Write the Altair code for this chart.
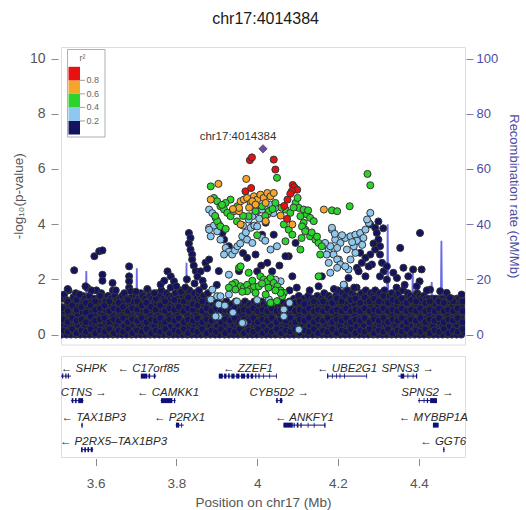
import altair as alt
import pandas as pd

# ---------------------------------------------------------------- region
LEAD_NAME = "chr17:4014384"
LEAD_POS = 4.014384          # Mb
LEAD_LOGP = 6.73
X_MIN, X_MAX = LEAD_POS - 0.5, LEAD_POS + 0.5
Y_MIN, Y_MAX = -0.36, 10.42
REC_MIN, REC_MAX = -3.6, 104.2

R2_LEVELS = ["NA", "0-0.2", "0.2-0.4", "0.4-0.6", "0.6-0.8", "0.8-1"]
R2_COLORS = ["#9a9a8a", "#13135f", "#8fc8ee", "#2ad42a", "#f4a62a", "#e81010"]

# ---------------------------------------------------------------- SNPs
# weakly linked SNPs forming the dense floor: (position kb, [-log10 p, ...])
NAVY_BAND = [
    (3516, [0.0, 0.35, 0.7, 1.0, 1.3]), (3522, [0.1, 0.5, 0.85, 1.45]),
    (3528, [0.0, 0.25, 0.6, 1.0, 1.25]), (3533, [0.15, 0.45, 0.75, 1.1, 1.6]),
    (3539, [0.0, 0.3, 0.55, 0.9, 1.2]), (3545, [0.2, 0.6, 1.0, 1.35]),
    (3551, [0.0, 0.4, 0.8, 1.1, 1.5]), (3556, [0.1, 0.35, 0.7, 1.0, 1.3]),
    (3562, [0.0, 0.5, 0.9, 1.2]), (3568, [0.2, 0.45, 0.8, 1.1, 1.4]),
    (3574, [0.0, 0.3, 0.65, 1.0, 1.3]), (3579, [0.1, 0.5, 0.9, 1.2, 1.7]),
    (3585, [0.0, 0.25, 0.6, 1.1, 1.4]), (3591, [0.15, 0.4, 0.8, 1.2]),
    (3597, [0.0, 0.3, 0.7, 1.0, 1.3]), (3602, [0.2, 0.5, 0.9, 1.1, 1.6]),
    (3608, [0.0, 0.4, 0.6, 1.0, 1.3]), (3614, [0.1, 0.3, 0.8, 1.2, 1.5]),
    (3620, [0.0, 0.5, 0.7, 1.1, 1.35]), (3625, [0.2, 0.45, 0.9, 1.2]),
    (3631, [0.0, 0.3, 0.6, 1.0, 1.4]), (3637, [0.1, 0.5, 0.8, 1.1, 1.3]),
    (3643, [0.0, 0.2, 0.7, 1.2, 1.6]), (3648, [0.15, 0.4, 0.9, 1.1, 1.4]),
    (3654, [0.0, 0.3, 0.6, 1.0, 1.25]), (3660, [0.2, 0.5, 0.8, 1.3]),
    (3666, [0.0, 0.4, 0.7, 1.1, 1.4]), (3671, [0.1, 0.3, 0.9, 1.2, 1.5]),
    (3677, [0.0, 0.5, 0.65, 1.0, 1.3]), (3683, [0.2, 0.4, 0.8, 1.2, 1.7]),
    (3689, [0.0, 0.3, 0.7, 1.1, 1.35]), (3694, [0.1, 0.6, 0.9, 1.2]),
    (3700, [0.0, 0.2, 0.5, 1.0, 1.4]), (3706, [0.1, 0.4, 0.8, 1.1, 1.3]),
    (3712, [0.0, 0.3, 0.7, 1.2, 1.5]), (3717, [0.2, 0.5, 0.9, 1.1, 1.4]),
    (3723, [0.0, 0.4, 0.6, 1.0, 1.3]), (3729, [0.1, 0.3, 0.8, 1.2, 1.6]),
    (3735, [0.0, 0.5, 0.7, 1.1, 1.4]), (3740, [0.2, 0.4, 0.9, 1.3]),
    (3746, [0.0, 0.3, 0.6, 1.0, 1.2]), (3752, [0.1, 0.5, 0.8, 1.1, 1.5]),
    (3758, [0.0, 0.2, 0.7, 1.2, 1.4]), (3763, [0.1, 0.4, 0.9, 1.1, 1.6]),
    (3769, [0.0, 0.3, 0.6, 1.0, 1.3]), (3775, [0.2, 0.5, 0.8, 1.2, 1.5]),
    (3781, [0.0, 0.4, 0.7, 1.1, 1.4]), (3786, [0.1, 0.3, 0.9, 1.3, 1.7]),
    (3792, [0.0, 0.5, 0.6, 1.0, 1.4]), (3798, [0.2, 0.4, 0.8, 1.2, 1.5]),
    (3804, [0.0, 0.3, 0.7, 1.1, 1.3]), (3809, [0.1, 0.6, 0.9, 1.2, 1.6]),
    (3815, [0.0, 0.2, 0.5, 1.0, 1.4]), (3821, [0.1, 0.4, 0.8, 1.1, 1.5]),
    (3827, [0.0, 0.3, 0.7, 1.2, 1.4]), (3832, [0.2, 0.5, 0.9, 1.3, 1.6]),
    (3838, [0.0, 0.4, 0.6, 1.0, 1.4]), (3844, [0.1, 0.3, 0.8, 1.2, 1.5]),
    (3850, [0.0, 0.5, 0.7, 1.1, 1.3]), (3855, [0.2, 0.4, 0.9, 1.2, 1.5]),
    (3861, [0.0, 0.3, 0.6, 1.0, 1.3]), (3867, [0.1, 0.5, 0.8, 1.1, 1.4]),
    (3873, [0.0, 0.2, 0.7, 1.2]), (3878, [0.1, 0.4, 0.9, 1.1]),
    (3884, [0.0, 0.3, 0.6, 1.0]), (3890, [0.2, 0.5, 0.8, 1.1]),
    (3896, [0.0, 0.4, 0.7, 1.0]), (3901, [0.1, 0.3, 0.9, 1.2]),
    (3907, [0.0, 0.5, 0.6, 1.0]), (3913, [0.2, 0.4, 0.8, 1.1]),
    (3919, [0.0, 0.3, 0.7, 1.0]), (3924, [0.1, 0.6, 0.9, 1.2]),
    (3930, [0.0, 0.2, 0.5, 1.0]), (3936, [0.1, 0.4, 0.8, 1.1]),
    (3942, [0.0, 0.3, 0.7, 0.9]), (3947, [0.2, 0.5, 0.9, 1.2]),
    (3953, [0.0, 0.4, 0.6, 1.0]), (3959, [0.1, 0.3, 0.8, 1.1]),
    (3965, [0.0, 0.5, 0.7, 1.0]), (3970, [0.2, 0.4, 0.9, 1.2]),
    (3976, [0.0, 0.3, 0.6, 1.0]), (3982, [0.1, 0.5, 0.8, 1.1]),
    (3988, [0.0, 0.2, 0.7, 1.0]), (3993, [0.1, 0.4, 0.9, 1.2]),
    (3999, [0.0, 0.3, 0.6, 1.1]), (4005, [0.2, 0.5, 0.8, 1.0]),
    (4011, [0.0, 0.4, 0.7, 1.2]), (4016, [0.1, 0.3, 0.9, 1.1]),
    (4022, [0.0, 0.5, 0.6, 1.0]), (4028, [0.2, 0.4, 0.8, 1.2]),
    (4034, [0.0, 0.3, 0.7, 1.0]), (4039, [0.1, 0.6, 0.9, 1.1]),
    (4045, [0.0, 0.2, 0.5, 1.0]), (4051, [0.1, 0.4, 0.8, 1.2]),
    (4057, [0.0, 0.3, 0.7, 1.1]), (4062, [0.2, 0.5, 0.9, 1.2]),
    (4068, [0.0, 0.4, 0.6, 1.0]), (4074, [0.1, 0.3, 0.8, 1.1]),
    (4080, [0.0, 0.5, 0.7, 1.2]), (4085, [0.2, 0.4, 0.9, 1.1]),
    (4091, [0.0, 0.3, 0.6, 1.0, 1.3]), (4097, [0.1, 0.5, 0.8, 1.2]),
    (4103, [0.0, 0.2, 0.7, 1.1, 1.4]), (4108, [0.1, 0.4, 0.9, 1.2]),
    (4114, [0.0, 0.3, 0.6, 1.0, 1.3]), (4120, [0.2, 0.5, 0.8, 1.1]),
    (4126, [0.0, 0.4, 0.7, 1.2, 1.4]), (4131, [0.1, 0.3, 0.9, 1.1]),
    (4137, [0.0, 0.5, 0.6, 1.0, 1.3]), (4143, [0.2, 0.4, 0.8, 1.2]),
    (4149, [0.0, 0.3, 0.7, 1.1, 1.4]), (4154, [0.1, 0.6, 0.9, 1.2]),
    (4160, [0.0, 0.2, 0.5, 1.0, 1.3]), (4166, [0.1, 0.4, 0.8, 1.1, 1.5]),
    (4172, [0.0, 0.3, 0.7, 1.2]), (4177, [0.2, 0.5, 0.9, 1.1, 1.4]),
    (4183, [0.0, 0.4, 0.6, 1.0, 1.3]), (4189, [0.1, 0.3, 0.8, 1.2]),
    (4195, [0.0, 0.5, 0.7, 1.1, 1.4]), (4200, [0.2, 0.4, 0.9, 1.2, 1.6]),
    (4206, [0.0, 0.3, 0.6, 1.0, 1.3]), (4212, [0.1, 0.5, 0.8, 1.1, 1.5]),
    (4218, [0.0, 0.2, 0.7, 1.2, 1.4]), (4223, [0.1, 0.4, 0.9, 1.1, 1.6]),
    (4229, [0.0, 0.3, 0.6, 1.0, 1.3]), (4235, [0.2, 0.5, 0.8, 1.2, 1.5]),
    (4241, [0.0, 0.4, 0.7, 1.1, 1.4]), (4246, [0.1, 0.3, 0.9, 1.3, 1.7]),
    (4252, [0.0, 0.5, 0.6, 1.0, 1.4]), (4258, [0.2, 0.4, 0.8, 1.2, 1.5]),
    (4264, [0.0, 0.3, 0.7, 1.1, 1.3]), (4269, [0.1, 0.6, 0.9, 1.2, 1.6]),
    (4275, [0.0, 0.2, 0.5, 1.0, 1.4]), (4281, [0.1, 0.4, 0.8, 1.1, 1.5]),
    (4287, [0.0, 0.3, 0.7, 1.2, 1.4]), (4292, [0.2, 0.5, 0.9, 1.3, 1.6]),
    (4298, [0.0, 0.4, 0.6, 1.0, 1.4]), (4304, [0.1, 0.3, 0.8, 1.2, 1.5]),
    (4310, [0.0, 0.5, 0.7, 1.1, 1.3]), (4315, [0.2, 0.4, 0.9, 1.2, 1.6]),
    (4321, [0.0, 0.3, 0.6, 1.0, 1.3]), (4327, [0.1, 0.5, 0.8, 1.1, 1.4]),
    (4333, [0.0, 0.2, 0.7, 1.2, 1.5]), (4338, [0.1, 0.4, 0.9, 1.1, 1.3]),
    (4344, [0.0, 0.3, 0.6, 1.0, 1.4]), (4350, [0.2, 0.5, 0.8, 1.2, 1.5]),
    (4356, [0.0, 0.4, 0.7, 1.1, 1.3]), (4361, [0.1, 0.3, 0.9, 1.2, 1.6]),
    (4367, [0.0, 0.5, 0.6, 1.0, 1.3]), (4373, [0.2, 0.4, 0.8, 1.2, 1.5]),
    (4379, [0.0, 0.3, 0.7, 1.1, 1.4]), (4384, [0.1, 0.6, 0.9, 1.2, 1.3]),
    (4390, [0.0, 0.2, 0.5, 1.0, 1.4]), (4396, [0.1, 0.4, 0.8, 1.1, 1.5]),
    (4402, [0.0, 0.3, 0.7, 1.2, 1.4]), (4407, [0.2, 0.5, 0.9, 1.3]),
    (4413, [0.0, 0.4, 0.6, 1.0, 1.4]), (4419, [0.1, 0.3, 0.8, 1.2, 1.3]),
    (4425, [0.0, 0.5, 0.7, 1.1, 1.3]), (4430, [0.2, 0.4, 0.9, 1.2]),
    (4436, [0.0, 0.3, 0.6, 1.0, 1.3]), (4442, [0.1, 0.5, 0.8, 1.1, 1.3]),
    (4448, [0.0, 0.2, 0.7, 1.2]), (4453, [0.1, 0.4, 0.9, 1.1, 1.3]),
    (4459, [0.0, 0.3, 0.6, 1.0, 1.3]), (4465, [0.2, 0.5, 0.8, 1.2]),
    (4471, [0.0, 0.4, 0.7, 1.1, 1.3]), (4476, [0.1, 0.3, 0.9, 1.2, 1.3]),
    (4482, [0.0, 0.5, 0.6, 1.0, 1.3]), (4488, [0.2, 0.4, 0.8, 1.2]),
    (4494, [0.0, 0.3, 0.7, 1.1, 1.3]), (4499, [0.1, 0.5, 0.9, 1.2, 1.3]),
    (4505, [0.0, 0.2, 0.6, 1.0, 1.3]), (4511, [0.1, 0.4, 0.8, 1.2]),
]
# further floor SNPs lying between the columns above
NAVY_BAND_2 = [
    (3519, [0.15, 0.55, 0.95]), (3531, [0.1, 0.45, 0.85, 1.2]), (3542, [0.2, 0.6, 1.05]),
    (3553, [0.05, 0.5, 0.9, 1.25]), (3565, [0.15, 0.55, 1.0]), (3576, [0.1, 0.45, 0.8, 1.15]),
    (3588, [0.2, 0.65, 1.05]), (3599, [0.05, 0.5, 0.9, 1.2]), (3611, [0.15, 0.55, 0.95, 1.4]),
    (3622, [0.1, 0.6, 1.05]), (3634, [0.2, 0.45, 0.85, 1.2]), (3645, [0.05, 0.55, 0.95]),
    (3657, [0.15, 0.5, 0.9, 1.15]), (3668, [0.1, 0.6, 1.0]), (3680, [0.2, 0.45, 0.85, 1.25]),
    (3691, [0.05, 0.55, 0.95]), (3703, [0.15, 0.5, 0.9, 1.2]), (3714, [0.1, 0.6, 1.05]),
    (3726, [0.2, 0.45, 0.85, 1.15]), (3737, [0.05, 0.55, 1.0]), (3749, [0.15, 0.5, 0.9, 1.3]),
    (3760, [0.1, 0.6, 1.05]), (3772, [0.2, 0.45, 0.85, 1.2]), (3783, [0.05, 0.55, 0.95]),
    (3795, [0.15, 0.5, 0.9, 1.25]), (3806, [0.1, 0.6, 1.0]), (3818, [0.2, 0.45, 0.85, 1.2]),
    (3829, [0.05, 0.55, 0.95, 1.35]), (3841, [0.15, 0.5, 0.9, 1.1]), (3852, [0.1, 0.6, 1.05]),
    (3864, [0.2, 0.45, 0.85, 1.2]), (3875, [0.05, 0.55, 0.95]), (3887, [0.15, 0.5, 0.85]),
    (3898, [0.1, 0.6, 0.95]), (3910, [0.2, 0.45, 0.85]), (3921, [0.05, 0.55, 0.9]),
    (3933, [0.15, 0.5, 0.85]), (3944, [0.1, 0.6, 0.95]), (3956, [0.2, 0.45, 0.85]),
    (3967, [0.05, 0.55, 0.9]), (3979, [0.15, 0.5, 0.85]), (3990, [0.1, 0.6, 0.95]),
    (4002, [0.2, 0.45, 0.85]), (4013, [0.05, 0.55, 0.9]), (4025, [0.15, 0.5, 0.85]),
    (4036, [0.1, 0.6, 0.95]), (4048, [0.2, 0.45, 0.85]), (4059, [0.05, 0.55, 0.9]),
    (4071, [0.15, 0.5, 0.85]), (4082, [0.1, 0.6, 0.95]), (4094, [0.2, 0.45, 0.85, 1.15]),
    (4105, [0.05, 0.55, 0.9, 1.2]), (4117, [0.15, 0.5, 0.85, 1.1]), (4128, [0.1, 0.6, 0.95]),
    (4140, [0.2, 0.45, 0.85, 1.2]), (4151, [0.05, 0.55, 0.9]), (4163, [0.15, 0.5, 0.85, 1.2]),
    (4174, [0.1, 0.6, 0.95]), (4186, [0.2, 0.45, 0.85, 1.15]), (4197, [0.05, 0.55, 0.9, 1.3]),
    (4209, [0.15, 0.5, 0.85, 1.2]), (4220, [0.1, 0.6, 0.95]), (4232, [0.2, 0.45, 0.85, 1.25]),
    (4243, [0.05, 0.55, 0.9, 1.3]), (4255, [0.15, 0.5, 0.85, 1.15]), (4266, [0.1, 0.6, 0.95, 1.35]),
    (4278, [0.2, 0.45, 0.85, 1.2]), (4289, [0.05, 0.55, 0.9, 1.3]), (4301, [0.15, 0.5, 0.85, 1.2]),
    (4312, [0.1, 0.6, 0.95, 1.4]), (4324, [0.2, 0.45, 0.85, 1.15]), (4335, [0.05, 0.55, 0.9, 1.25]),
    (4347, [0.15, 0.5, 0.85, 1.2]), (4358, [0.1, 0.6, 0.95, 1.3]), (4370, [0.2, 0.45, 0.85, 1.15]),
    (4381, [0.05, 0.55, 0.9, 1.25]), (4393, [0.15, 0.5, 0.85, 1.2]), (4404, [0.1, 0.6, 0.95]),
    (4416, [0.2, 0.45, 0.85, 1.15]), (4427, [0.05, 0.55, 0.9, 1.2]), (4439, [0.15, 0.5, 0.85]),
    (4450, [0.1, 0.6, 0.95, 1.2]), (4462, [0.2, 0.45, 0.85, 1.15]), (4473, [0.05, 0.55, 0.9]),
    (4485, [0.15, 0.5, 0.85, 1.2]), (4496, [0.1, 0.6, 0.95]), (4508, [0.2, 0.45, 0.85, 1.2]),
]

# weakly linked SNPs standing above the floor: (Mb, -log10 p)
NAVY = [
    (3.547, 2.33), (3.597, 2.84), (3.609, 3.02), (3.617, 3.05), (3.683, 2.47),
    (3.683, 2.11), (3.683, 1.93), (3.617, 2.17), (3.617, 1.95), (3.642, 1.87),
    (3.687, 1.57), (3.778, 2.29), (3.786, 2.11), (3.794, 1.93), (3.761, 1.81),
    (3.531, 1.65), (3.560, 1.45), (3.575, 1.75), (3.590, 1.60), (3.650, 1.60),
    (3.700, 1.55), (3.728, 1.65), (3.745, 1.50), (3.770, 1.95), (3.800, 1.75),
    (3.812, 1.55),
    (3.831, 3.68), (3.835, 3.50), (3.831, 3.30), (3.835, 3.08), (3.839, 2.90),
    (3.839, 2.72), (3.843, 2.50), (3.848, 2.30), (3.860, 2.29), (3.852, 2.10),
    (3.865, 1.95), (3.872, 2.60), (3.881, 2.72), (3.876, 2.40), (3.868, 1.75),
    (3.856, 1.60), (3.878, 1.50), (3.845, 1.85), (3.826, 2.00), (3.822, 1.70),
    (3.975, 2.78), (3.996, 2.90), (3.955, 2.30), (4.000, 2.29), (4.037, 2.29),
    (4.078, 2.84), (4.087, 2.11), (3.988, 3.92), (4.021, 4.05), (3.914, 3.68),
    (3.918, 3.44), (4.095, 3.32), (4.070, 2.84), (4.012, 3.62), (4.041, 3.62),
    (3.930, 3.20), (3.965, 2.95), (4.025, 2.60), (4.055, 2.50), (3.905, 2.30),
    (3.900, 1.80), (4.010, 2.50), (4.098, 1.70), (4.080, 1.60),
    (4.280, 3.99), (4.292, 3.87), (4.296, 3.68), (4.300, 3.44), (4.304, 3.20),
    (4.292, 3.08), (4.280, 2.90), (4.268, 2.78), (4.255, 2.96), (4.259, 2.60),
    (4.247, 2.42), (4.284, 2.54), (4.304, 2.90), (4.309, 2.60), (4.313, 2.29),
    (4.354, 3.14), (4.403, 3.68), (4.362, 2.42), (4.374, 2.11), (4.386, 2.36),
    (4.226, 2.05), (4.268, 2.11), (4.304, 2.11), (4.346, 2.05), (4.337, 2.24),
    (4.407, 2.36), (4.402, 1.93), (4.321, 1.99), (4.428, 1.63), (4.453, 1.57),
    (4.469, 1.51), (4.477, 1.33), (4.506, 1.45), (4.395, 1.75), (4.321, 2.47),
    (4.160, 2.11), (4.152, 1.75), (4.251, 2.29), (4.276, 2.47), (4.190, 1.65),
    (4.215, 1.80), (4.240, 1.70), (4.130, 1.60), (4.345, 1.70), (4.365, 1.80),
    (4.420, 1.60), (4.288, 3.30), (4.300, 4.10), (4.312, 3.85),
]

# SNP without LD information
GREY = [(3.720, 1.39)]

LIGHTBLUE = [
    (3.881, 4.53), (3.889, 4.40), (3.897, 4.23), (3.881, 3.87), (3.885, 3.56),
    (3.901, 3.74), (3.909, 3.44), (3.922, 3.14), (3.930, 3.00), (3.938, 2.90),
    (3.945, 3.05), (3.951, 3.20), (3.918, 2.90), (3.963, 3.56), (3.972, 3.70),
    (3.984, 3.87), (3.993, 3.95), (4.000, 3.92), (3.988, 4.29), (4.000, 4.47),
    (4.012, 4.53), (4.021, 4.65), (4.033, 4.71), (4.045, 4.59), (3.979, 4.17),
    (3.975, 3.44), (3.988, 3.32), (4.049, 3.20), (4.033, 3.08), (4.012, 3.50),
    (3.893, 3.95), (3.905, 4.00), (3.958, 3.30), (4.005, 4.20), (4.025, 4.35),
    (4.040, 4.40), (4.020, 3.40), (3.965, 3.95), (3.881, 3.80),
    (3.901, 1.39), (3.905, 1.09), (3.905, 0.66), (3.967, 0.42), (3.930, 2.17),
    (4.058, 1.93), (4.066, 0.91), (3.889, 1.63), (3.885, 1.27), (3.897, 0.66),
    (3.909, 1.39), (3.930, 1.45), (3.963, 0.42), (4.029, 1.27), (4.066, 0.66),
    (4.103, 0.18), (4.045, 1.99), (3.920, 1.05), (3.950, 1.20), (4.000, 1.25),
    (4.080, 1.15), (3.940, 0.80),
    (4.181, 2.24), (4.202, 2.72), (4.226, 2.36), (4.243, 2.96), (4.177, 2.60),
    (4.185, 3.80), (4.185, 3.87), (4.177, 3.08), (4.189, 2.90), (4.198, 2.72),
    (4.206, 2.54), (4.218, 2.47), (4.231, 2.72), (4.214, 1.81), (4.193, 3.44),
    (4.206, 3.32), (4.218, 3.50), (4.231, 3.56), (4.243, 3.62), (4.255, 3.68),
    (4.268, 3.80), (4.276, 4.05), (4.280, 4.41), (4.272, 4.17), (4.181, 3.20),
    (4.198, 3.14), (4.222, 3.08), (4.239, 3.20), (4.251, 3.38), (4.263, 3.50),
    (4.168, 3.32), (4.172, 2.90), (4.198, 2.42), (4.210, 3.60), (4.247, 3.40),
    (4.260, 3.25), (4.235, 3.35), (4.192, 3.65),
]

GREEN = [
    (3.885, 5.37), (3.893, 4.95), (3.901, 4.83), (3.909, 4.65), (3.918, 4.53),
    (3.926, 4.41), (3.901, 4.11), (3.909, 3.92), (3.922, 3.83), (3.934, 4.29),
    (3.942, 4.47), (3.951, 4.65), (3.934, 4.89), (3.922, 4.77), (3.913, 4.70),
    (3.896, 4.30), (4.012, 4.65), (4.029, 4.47), (4.045, 4.77), (4.070, 4.53),
    (4.082, 4.41), (4.095, 4.77), (4.103, 4.59), (4.107, 4.29), (4.115, 4.05),
    (4.119, 3.80), (4.066, 3.99), (4.078, 3.80), (4.087, 3.62), (4.070, 3.38),
    (4.107, 3.08), (4.049, 5.68), (3.996, 4.47), (3.979, 4.29), (4.115, 4.53),
    (4.123, 4.35), (4.131, 4.23), (4.140, 4.11), (4.111, 3.92), (4.119, 3.74),
    (4.131, 3.56), (4.144, 3.44), (4.152, 3.32), (4.160, 3.20), (4.156, 2.90),
    (4.152, 2.11), (4.273, 5.82), (4.280, 5.41), (4.229, 4.65), (4.185, 4.50),
    (4.198, 4.47), (4.100, 4.95), (4.090, 4.60), (4.126, 4.50), (4.060, 4.60),
    (4.038, 4.55), (4.020, 4.30), (3.965, 4.30), (3.950, 4.10), (4.000, 3.60),
    (4.110, 3.50), (4.135, 3.70), (4.148, 3.55),
    (3.955, 2.42), (3.946, 1.87), (3.959, 1.75), (3.967, 1.69), (3.975, 1.80),
    (3.984, 1.65), (3.992, 1.75), (4.008, 2.11), (4.016, 2.00), (4.025, 1.93),
    (4.033, 2.05), (4.041, 1.87), (4.050, 1.75), (4.058, 1.60), (4.066, 1.51),
    (4.037, 1.15), (3.959, 2.47), (3.979, 2.24), (3.938, 1.81), (3.946, 1.63),
    (3.975, 1.57), (3.996, 1.51), (4.021, 1.45), (4.033, 1.15), (4.049, 1.21),
    (4.062, 1.39), (4.058, 1.51), (3.930, 1.70), (3.963, 1.55), (4.004, 1.75),
    (4.012, 1.85), (4.045, 1.60), (3.988, 1.95), (4.028, 1.70),
]

ORANGE = [
    (3.885, 4.89), (3.904, 5.46), (3.973, 5.64), (3.955, 4.47), (3.959, 4.83),
    (3.967, 4.89), (3.975, 4.95), (3.984, 4.77), (3.992, 5.01), (4.000, 4.89),
    (4.008, 5.07), (4.016, 4.95), (4.025, 5.13), (4.033, 5.01), (4.041, 5.13),
    (4.021, 4.77), (3.988, 4.83), (3.996, 4.71), (4.021, 4.11), (4.058, 4.31),
    (4.087, 3.99), (3.959, 3.99), (4.165, 4.53), (3.955, 4.59), (3.980, 4.60),
    (3.940, 4.55),
]

RED = [
    (3.982, 6.32), (3.987, 6.42), (4.041, 6.34), (4.045, 5.98), (3.971, 5.19),
    (3.985, 5.31), (4.088, 5.42), (4.092, 5.34), (4.099, 5.25), (4.086, 5.20),
    (4.082, 5.10), (4.075, 4.89), (4.067, 4.66), (4.074, 4.19),
]

# ---------------------------------------------------------------- recombination
REC_POS = [3.5144, 3.545, 3.570, 3.575, 3.577, 3.579, 3.610, 3.660, 3.700, 3.702,
           3.704, 3.746, 3.748, 3.750, 3.790, 3.823, 3.825, 3.827, 3.870, 3.950,
           4.050, 4.150, 4.250, 4.300, 4.321, 4.323, 4.325, 4.355, 4.383, 4.385,
           4.387, 4.410, 4.430, 4.432, 4.434, 4.454, 4.456, 4.458, 4.490, 4.5144]
REC_RATE = [1.5, 0.8, 1.2, 2.0, 23.0, 2.0, 1.0, 0.6, 1.5, 24.0,
            1.5, 2.0, 16.0, 1.5, 0.8, 1.5, 26.0, 2.0, 0.8, 0.4,
            0.3, 0.6, 1.2, 1.5, 2.0, 40.0, 2.5, 3.0, 2.0, 24.5,
            2.0, 2.5, 2.0, 19.0, 2.5, 3.0, 34.0, 3.0, 2.0, 1.5]

# ---------------------------------------------------------------- genes
GENE_NAMES = ["SHPK", "C17orf85", "ZZEF1", "UBE2G1", "SPNS3",
              "CTNS", "CAMKK1", "CYB5D2", "SPNS2",
              "TAX1BP3", "P2RX1", "ANKFY1", "MYBBP1A",
              "P2RX5\u2013TAX1BP3", "GGT6"]
GENE_STRAND = ["-", "-", "-", "-", "+",
               "+", "-", "+", "+",
               "-", "-", "-", "-",
               "-", "-"]
GENE_START = [3.5144, 3.712, 3.905, 4.173, 4.349,
              3.539, 3.761, 4.046, 4.398,
              3.564, 3.798, 4.065, 4.435,
              3.564, 4.4605]
GENE_END = [3.539, 3.750, 4.049, 4.272, 4.396,
            3.570, 3.798, 4.063, 4.445,
            3.569, 3.818, 4.169, 4.449,
            3.594, 4.4635]
GENE_ROW = [0, 0, 0, 0, 0,
            1, 1, 1, 1,
            2, 2, 2, 2,
            3, 3]
# exons: (gene, start Mb, end Mb)
EXONS = [
    ("SHPK", 3.517, 3.520), ("SHPK", 3.525, 3.528), ("SHPK", 3.531, 3.534),
    ("C17orf85", 3.712, 3.728), ("C17orf85", 3.731, 3.735), ("C17orf85", 3.744, 3.748),
    ("ZZEF1", 3.905, 3.915), ("ZZEF1", 3.918, 3.924), ("ZZEF1", 3.928, 3.932),
    ("ZZEF1", 3.936, 3.944), ("ZZEF1", 3.948, 3.956), ("ZZEF1", 3.960, 3.970),
    ("ZZEF1", 3.974, 3.980), ("ZZEF1", 3.984, 3.990), ("ZZEF1", 3.995, 3.998),
    ("ZZEF1", 4.003, 4.006), ("ZZEF1", 4.015, 4.017), ("ZZEF1", 4.030, 4.032),
    ("ZZEF1", 4.047, 4.049),
    ("UBE2G1", 4.173, 4.176), ("UBE2G1", 4.185, 4.187), ("UBE2G1", 4.195, 4.197),
    ("UBE2G1", 4.204, 4.206), ("UBE2G1", 4.215, 4.217), ("UBE2G1", 4.270, 4.272),
    ("SPNS3", 4.355, 4.364), ("SPNS3", 4.372, 4.374), ("SPNS3", 4.385, 4.387),
    ("SPNS3", 4.393, 4.396),
    ("CTNS", 3.541, 3.545), ("CTNS", 3.549, 3.553), ("CTNS", 3.557, 3.569),
    ("CAMKK1", 3.762, 3.790), ("CAMKK1", 3.794, 3.797),
    ("CYB5D2", 4.047, 4.051), ("CYB5D2", 4.056, 4.062),
    ("SPNS2", 4.400, 4.402), ("SPNS2", 4.412, 4.414), ("SPNS2", 4.420, 4.423),
    ("SPNS2", 4.428, 4.445),
    ("TAX1BP3", 3.565, 3.568),
    ("P2RX1", 3.799, 3.807), ("P2RX1", 3.812, 3.814),
    ("ANKFY1", 4.065, 4.088), ("ANKFY1", 4.090, 4.093), ("ANKFY1", 4.098, 4.102),
    ("ANKFY1", 4.107, 4.110), ("ANKFY1", 4.125, 4.127), ("ANKFY1", 4.140, 4.142),
    ("ANKFY1", 4.166, 4.169),
    ("MYBBP1A", 4.435, 4.449),
    ("P2RX5\u2013TAX1BP3", 3.564, 3.568), ("P2RX5\u2013TAX1BP3", 3.572, 3.576),
    ("P2RX5\u2013TAX1BP3", 3.580, 3.584), ("P2RX5\u2013TAX1BP3", 3.588, 3.593),
    ("GGT6", 4.4605, 4.4635),
]

FONT = "Liberation Sans"
PLOT_W, TOP_H, GENE_H = 404, 297.5, 101
PX_PER_MB = PLOT_W / (X_MAX - X_MIN)

# ---------------------------------------------------------------- tables
rows = []
for band in (NAVY_BAND, NAVY_BAND_2):
    for kb, ys in band:
        for y in ys:
            rows.append((kb / 1000.0, y, "0-0.2"))
for group, level in [(GREY, "NA"), (NAVY, "0-0.2"), (LIGHTBLUE, "0.2-0.4"),
                     (GREEN, "0.4-0.6"), (ORANGE, "0.6-0.8"), (RED, "0.8-1")]:
    for p, y in group:
        rows.append((p, y, level))
snps = pd.DataFrame(rows, columns=["pos", "logp", "r2"])
snps["rank"] = snps["r2"].map({lv: i for i, lv in enumerate(R2_LEVELS)})

lead = pd.DataFrame({"pos": [LEAD_POS], "logp": [LEAD_LOGP], "name": [LEAD_NAME]})
rec = pd.DataFrame({"pos": REC_POS, "rate": REC_RATE})

genes = pd.DataFrame({"name": GENE_NAMES, "strand": GENE_STRAND,
                      "start": GENE_START, "end": GENE_END, "row": GENE_ROW})
genes["label"] = [("\u2190 " + n) if s == "-" else (n + " \u2192")
                  for n, s in zip(genes["name"], genes["strand"])]
# keep labels centred on their gene but inside the panel
half = genes["label"].str.len() * 6.6 / 2 / PX_PER_MB
mid = (genes["start"] + genes["end"]) / 2
genes["lab_x"] = [min(max(m, X_MIN + h + 3 / PX_PER_MB), X_MAX - h - 2 / PX_PER_MB)
                  for m, h in zip(mid, half)]
row_of = dict(zip(GENE_NAMES, GENE_ROW))
exons = pd.DataFrame(EXONS, columns=["name", "start", "end"])
exons["row"] = exons["name"].map(row_of)

legend_bins = pd.DataFrame({"lo": [0.0, 0.2, 0.4, 0.6, 0.8],
                            "hi": [0.2, 0.4, 0.6, 0.8, 1.0],
                            "r2": R2_LEVELS[1:]})
legend_ticks = pd.DataFrame({"b": [0.2, 0.4, 0.6, 0.8],
                             "lab": ["0.2", "0.4", "0.6", "0.8"]})

# ---------------------------------------------------------------- scales
x_scale = alt.Scale(domain=[X_MIN, X_MAX], nice=False, zero=False)
y_scale = alt.Scale(domain=[Y_MIN, Y_MAX], nice=False, zero=False)
rec_scale = alt.Scale(domain=[REC_MIN, REC_MAX], nice=False, zero=False)
leg_scale = alt.Scale(domain=[0, 1], range=[87.5, 19.8], nice=False, zero=False)
fill_scale = alt.Scale(domain=R2_LEVELS, range=R2_COLORS)
row_scale = alt.Scale(domain=[-0.82, 3.3], nice=False, zero=False, reverse=True)

X_TOP = alt.X("pos:Q", scale=x_scale, axis=None)

# ---------------------------------------------------------------- association panel
rec_line = alt.Chart(rec).mark_line(color="#5a5ae6", strokeWidth=1.8, opacity=0.9,
                                    clip=True).encode(
    x=X_TOP,
    y=alt.Y("rate:Q", scale=rec_scale,
            axis=alt.Axis(orient="right", values=[0, 20, 40, 60, 80, 100],
                          title="Recombination rate (cM/Mb)", grid=False,
                          domain=False, tickSize=7, tickColor="#7d7db5", offset=1,
                          labelPadding=3, labelFontSize=13, labelColor="#4d4da3",
                          titleColor="#4d4da3", titleFontSize=13,
                          titleFontWeight="normal", titlePadding=9)),
)

points = alt.Chart(snps).mark_circle(size=50, opacity=1, stroke="#363636",
                                     strokeWidth=1.0, clip=True).encode(
    x=X_TOP,
    y=alt.Y("logp:Q", scale=y_scale,
            axis=alt.Axis(orient="left", values=[0, 2, 4, 6, 8, 10],
                          title="-log\u2081\u2080(p-value)", grid=False, domain=False,
                          tickSize=7, tickColor="#8a8a8a", offset=3, labelPadding=6,
                          labelFontSize=14, labelColor="#555555",
                          titleColor="#555555", titleFontSize=13.5,
                          titleFontWeight="normal", titlePadding=4)),
    fill=alt.Fill("r2:N", scale=fill_scale, legend=None),
    order=alt.Order("rank:Q"),
)

lead_pt = alt.Chart(lead).mark_point(shape="diamond", filled=True, size=70,
                                     fill="#7048a8", stroke="#333333",
                                     strokeWidth=0.6, opacity=1).encode(
    x=X_TOP, y=alt.Y("logp:Q", scale=y_scale))

lead_lab = alt.Chart(lead).mark_text(dx=-25, dy=-12, fontSize=11.5, color="#333333",
                                     font=FONT).encode(
    x=X_TOP, y=alt.Y("logp:Q", scale=y_scale), text="name:N")

assoc = alt.layer(points, lead_pt, lead_lab)

# r^2 key
key_box = alt.Chart(pd.DataFrame({"k": [0]})).mark_rect(
    fill="white", stroke="#9a9a9a", strokeWidth=0.8).encode(
    x=alt.value(6.5), x2=alt.value(44), y=alt.value(2.5), y2=alt.value(90))
key_bars = alt.Chart(legend_bins).mark_rect().encode(
    x=alt.value(7.5), x2=alt.value(19),
    y=alt.Y("hi:Q", scale=leg_scale, axis=None), y2="lo:Q",
    fill=alt.Fill("r2:N", scale=fill_scale, legend=None))
key_ticks = alt.Chart(legend_ticks).mark_rule(color="#888888", strokeWidth=0.8).encode(
    x=alt.value(19), x2=alt.value(24), y=alt.Y("b:Q", scale=leg_scale, axis=None))
key_labs = alt.Chart(legend_ticks).mark_text(align="left", baseline="middle",
                                             fontSize=9, color="#666666",
                                             font=FONT).encode(
    x=alt.value(25.5), y=alt.Y("b:Q", scale=leg_scale, axis=None), text="lab:N")
key_title = alt.Chart(pd.DataFrame({"t": ["r\u00b2"]})).mark_text(
    fontSize=9, color="#666666", font=FONT).encode(
    x=alt.value(21.5), y=alt.value(10.5), text="t:N")
key = alt.layer(key_box, key_bars, key_ticks, key_labs, key_title)

top = alt.layer(rec_line, assoc, key).resolve_scale(y="independent").properties(
    width=PLOT_W, height=TOP_H)

# ---------------------------------------------------------------- gene panel
X_GENE = alt.X("start:Q", scale=x_scale,
               axis=alt.Axis(values=[3.6, 3.8, 4.0, 4.2, 4.4], format="~g",
                             title="Position on chr17 (Mb)", grid=False,
                             domain=False, tickSize=7, tickColor="#8a8a8a",
                             offset=1.5, labelPadding=11, labelFontSize=13.5,
                             labelColor="#555555", titleColor="#555555",
                             titleFontSize=13.5, titleFontWeight="normal",
                             titlePadding=5))
Y_ROW = alt.Y("row:Q", scale=row_scale, axis=None)

introns = alt.Chart(genes).mark_rule(color="#10107a", strokeWidth=1).encode(
    x=X_GENE, x2="end:Q", y=Y_ROW)
exon_marks = alt.Chart(exons).mark_rule(color="#10107a", strokeWidth=5,
                                        strokeCap="butt").encode(
    x=alt.X("start:Q", scale=x_scale), x2="end:Q", y=Y_ROW)
gene_labels = alt.Chart(genes).mark_text(fontSize=11.5, fontStyle="italic",
                                         color="#2a2a2a", dy=-7.5,
                                         baseline="middle", font=FONT).encode(
    x=alt.X("lab_x:Q", scale=x_scale), y=Y_ROW, text="label:N")

gene_panel = alt.layer(introns, exon_marks, gene_labels).properties(
    width=PLOT_W, height=GENE_H)

chart = alt.vconcat(top, gene_panel, spacing=10).properties(
    title=alt.TitleParams(LEAD_NAME, fontSize=16, font=FONT, fontWeight="normal",
                          color="#1a1a1a", anchor="middle", offset=20),
    padding={"left": 10, "right": 4, "top": 10, "bottom": 4},
).configure_view(stroke="#b4b4b4", strokeWidth=1).configure(
    font=FONT, background="white")

chart.save("out.html", embed_options={"renderer": "svg", "actions": False})
